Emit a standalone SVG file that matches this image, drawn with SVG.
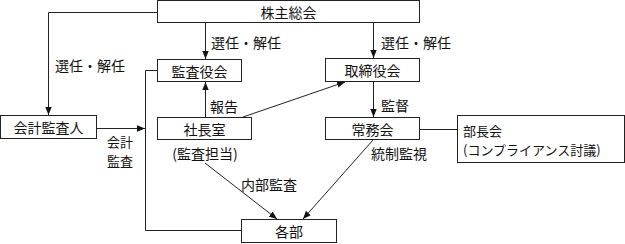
<svg xmlns="http://www.w3.org/2000/svg" width="625" height="244" viewBox="0 0 625 244">
<style>
.box{fill:#fff;stroke:#222;stroke-width:1}
.ln{fill:none;stroke:#222;stroke-width:1}
text{font-family:"Noto Sans CJK JP","Noto Sans CJK SC",sans-serif;font-size:14px;fill:#111;dominant-baseline:central}
.c{text-anchor:middle}
.s{font-size:13px}
</style>
<defs>
<marker id="ah" viewBox="0 0 8 8" refX="8" refY="4" markerWidth="8" markerHeight="8" markerUnits="userSpaceOnUse" orient="auto">
<path d="M0,0.8 L8,4 L0,7.2 Z" fill="#111"/>
</marker>
</defs>
<rect width="625" height="244" fill="#fff"/>
<g id="connectors">
<path class="ln" d="M157.5,12.5 H48.5 V115" marker-end="url(#ah)"/>
<path class="ln" d="M205.5,23 V59" marker-end="url(#ah)"/>
<path class="ln" d="M373.5,23 V58" marker-end="url(#ah)"/>
<path class="ln" d="M205.5,117 V82" marker-end="url(#ah)"/>
<path class="ln" d="M243,117 L345,82" marker-end="url(#ah)"/>
<path class="ln" d="M373.5,82 V117" marker-end="url(#ah)"/>
<path class="ln" d="M97,128.5 H145" marker-end="url(#ah)"/>
<path class="ln" d="M157.5,70.5 H145.5 V230.5 H241.5"/>
<path class="ln" d="M205,163 L277,219" marker-end="url(#ah)"/>
<path class="ln" d="M373,140 L303,219" marker-end="url(#ah)"/>
<path class="ln" d="M420,129.5 H457.5"/>
<text class="c" x="90" y="65">選任・解任</text>
<text class="c" x="246" y="42">選任・解任</text>
<text class="c" x="416" y="42">選任・解任</text>
<text class="c" x="224" y="106">報告</text>
<text class="c" x="395" y="105">監督</text>
<text class="c s" x="120" y="141.5">会計</text>
<text class="c s" x="120" y="160.5">監査</text>
<text class="c" x="269" y="183.5">内部監査</text>
<text class="c" x="399" y="153">統制監視</text>
</g>
<g id="kabunushi">
<rect class="box" x="157.5" y="0.5" width="262" height="22"/>
<text class="c" x="288.5" y="12">株主総会</text>
</g>
<g id="kansayakukai">
<rect class="box" x="157.5" y="59.5" width="84" height="22"/>
<text class="c" x="199.5" y="70.5">監査役会</text>
</g>
<g id="torishimariyakukai">
<rect class="box" x="325.5" y="58.5" width="94" height="23"/>
<text class="c" x="372.5" y="70">取締役会</text>
</g>
<g id="shachoshitsu">
<rect class="box" x="157.5" y="117.5" width="94" height="22"/>
<text class="c" x="204.5" y="128.5">社長室</text>
<text class="c" x="205" y="153">(監査担当)</text>
</g>
<g id="jomukai">
<rect class="box" x="325.5" y="117.5" width="94" height="22"/>
<text class="c" x="372.5" y="128.5">常務会</text>
</g>
<g id="kaikeikansanin">
<rect class="box" x="0.5" y="115.5" width="96" height="23"/>
<text class="c" x="48.5" y="127">会計監査人</text>
</g>
<g id="kakubu">
<rect class="box" x="241.5" y="219.5" width="95" height="23"/>
<text class="c" x="289" y="231">各部</text>
</g>
<g id="buchokai">
<rect class="box" x="457.5" y="115.5" width="167" height="47"/>
<text class="s" x="463" y="130">部長会</text>
<text class="s" x="463" y="149">(コンプライアンス討議)</text>
</g>
</svg>
